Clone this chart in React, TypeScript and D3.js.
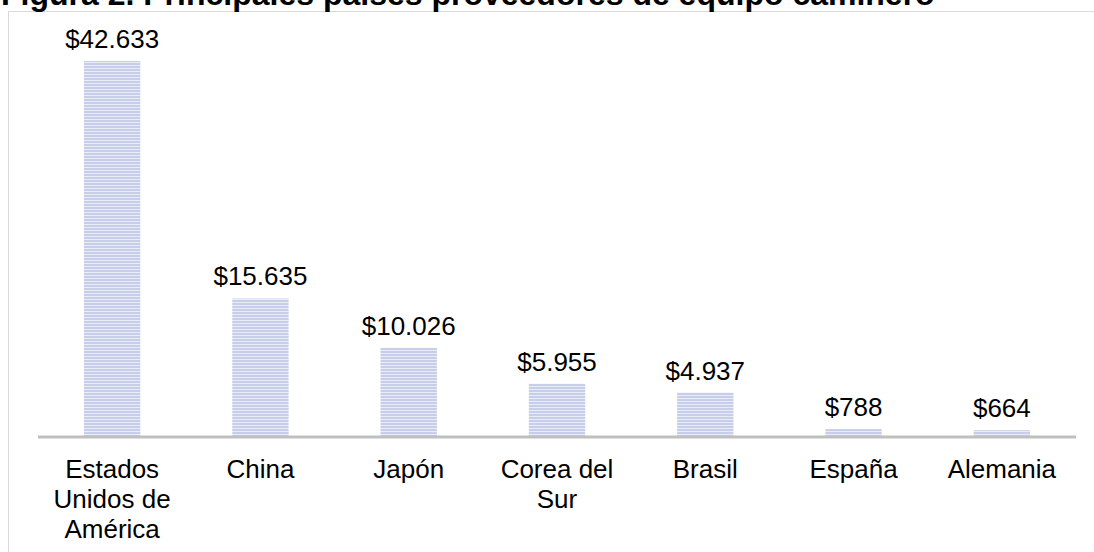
import React from 'react';
import * as d3 from 'd3';

const WIDTH = 1094;
const HEIGHT = 552;

const title = 'Figura 2. Principales países proveedores de equipo caminero';
const countries = [
  ['Estados', 'Unidos de', 'América'],
  ['China'],
  ['Japón'],
  ['Corea del', 'Sur'],
  ['Brasil'],
  ['España'],
  ['Alemania'],
];
const values = [42633, 15635, 10026, 5955, 4937, 788, 664];
const valueLabels = ['$42.633', '$15.635', '$10.026', '$5.955', '$4.937', '$788', '$664'];

const margin = { l: 38, r: 18, t: 61, b: 116 };

const App = () => {
  const keys = countries.map((c) => c.join(' '));
  const baseY = HEIGHT - margin.b;

  const xScale = d3
    .scaleBand<string>()
    .domain(keys)
    .range([margin.l, WIDTH - margin.r])
    .paddingInner(0.62)
    .paddingOuter(0.31);

  const yScale = d3
    .scaleLinear()
    .domain([0, d3.max(values) as number])
    .range([baseY, margin.t]);

  const font = 'Arial, "Liberation Sans", sans-serif';
  const cx = (i: number) => (xScale(keys[i]) as number) + xScale.bandwidth() / 2;

  return (
    <svg
      width={WIDTH}
      height={HEIGHT}
      viewBox={`0 0 ${WIDTH} ${HEIGHT}`}
      style={{ position: 'absolute', left: 0, top: 0, background: '#fff' }}
      fontFamily={font}
    >
      <defs>
        <pattern id="stripes" width={4} height={3} patternUnits="userSpaceOnUse">
          <rect width={4} height={3} fill="#e9ecf7" />
          <rect width={4} height={2} fill="#c7cee9" />
        </pattern>
      </defs>
      <rect x={0} y={0} width={WIDTH} height={HEIGHT} fill="#fff" />
      {/* frame */}
      <rect x={8.5} y={11.5} width={WIDTH} height={HEIGHT} fill="none" stroke="#d9d9d9" />
      <text x={1} y={5} fontSize={32} fontWeight="bold" fill="#000">
        {title}
      </text>

      {values.map((v, i) => (
        <rect
          key={`b-${i}`}
          x={xScale(keys[i])}
          y={yScale(v)}
          width={xScale.bandwidth()}
          height={baseY - yScale(v)}
          fill="url(#stripes)"
        />
      ))}

      <line x1={margin.l} x2={WIDTH - margin.r} y1={baseY + 1} y2={baseY + 1} stroke="#bfbfbf" strokeWidth={3} />

      {values.map((v, i) => (
        <text key={`v-${i}`} x={cx(i)} y={yScale(v) - 13} textAnchor="middle" fontSize={26} fill="#000">
          {valueLabels[i]}
        </text>
      ))}

      {countries.map((lines, i) => (
        <text key={`c-${i}`} x={cx(i)} y={baseY + 42} textAnchor="middle" fontSize={26} fill="#000">
          {lines.map((t, j) => (
            <tspan key={j} x={cx(i)} dy={j === 0 ? 0 : 30}>
              {t}
            </tspan>
          ))}
        </text>
      ))}
    </svg>
  );
};

export default App;
